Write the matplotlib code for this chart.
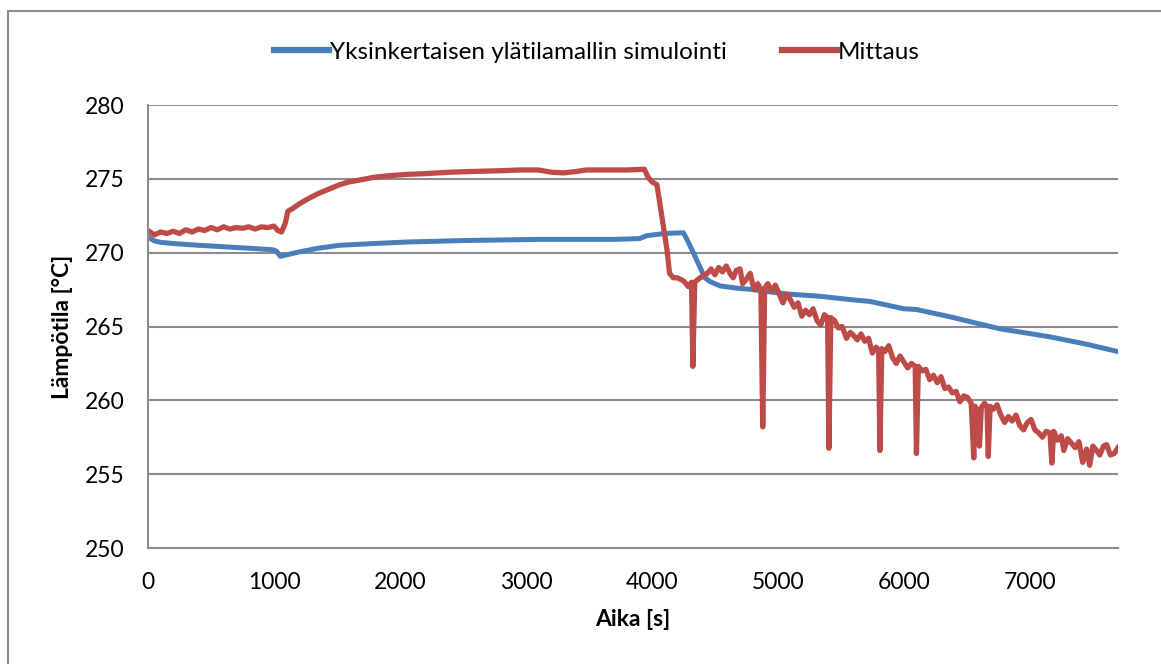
import matplotlib.pyplot as plt
from matplotlib.lines import Line2D
from matplotlib.patches import Rectangle

# Simuloitu ylätilan lämpötila (aika [s], lämpötila [°C])
sim_t = [0, 50, 100, 200, 400, 600, 800, 990, 1020, 1050, 1100, 1200, 1350,
         1520, 1800, 2050, 2500, 3110, 3700, 3900, 3960, 4100, 4250, 4275,
         4325, 4380, 4420, 4460, 4540, 4670, 4800, 5070, 5330, 5600, 5730,
         6000, 6100, 6370, 6760, 7160, 7450, 7700]
sim_T = [271.05, 270.8, 270.7, 270.62, 270.5, 270.4, 270.3, 270.2, 270.1,
         269.75, 269.85, 270.05, 270.3, 270.5, 270.62, 270.72, 270.82, 270.9,
         270.9, 270.95, 271.15, 271.3, 271.35, 270.95, 270.07, 269.05, 268.3,
         268.05, 267.75, 267.6, 267.5, 267.2, 267.05, 266.8, 266.7, 266.2,
         266.15, 265.65, 264.85, 264.3, 263.8, 263.3]

# Mitattu lämpötila
meas_t = [0, 50, 100, 150, 200, 250, 300, 350, 400, 450, 500, 550, 600, 650,
          700, 750, 800, 850, 900, 950, 1000, 1030, 1060, 1090, 1110, 1150,
          1200, 1260, 1350, 1450, 1520, 1600, 1700, 1790, 1900, 2050, 2200,
          2400, 2580, 2800, 2950, 3100, 3200, 3300, 3400, 3480, 3600, 3800,
          3940, 3970, 4000, 4040, 4080, 4120, 4140, 4170, 4200, 4250, 4290,
          4315, 4325, 4340,
          4360, 4400, 4440, 4470, 4500, 4530, 4560, 4590, 4620, 4645, 4670,
          4700, 4720, 4750, 4780, 4810, 4840, 4865, 4880, 4895, 4920, 4950,
          4980, 5010, 5040, 5070, 5100, 5130, 5160, 5190, 5220, 5250, 5280,
          5310, 5340, 5370, 5395, 5405, 5420, 5450, 5480, 5510, 5545, 5575,
          5600, 5630, 5660, 5690, 5720, 5750, 5780, 5800, 5810, 5825, 5850,
          5880, 5910, 5940, 5970, 6000, 6030, 6060, 6090, 6100, 6115, 6145,
          6175, 6205, 6235, 6265, 6295, 6325, 6355, 6385, 6415, 6445, 6475,
          6505, 6535, 6555, 6565, 6585, 6600, 6615, 6640, 6660, 6670, 6685,
          6710, 6740, 6770, 6800, 6830, 6860, 6890, 6920, 6950, 6980, 7010,
          7040, 7070, 7100, 7130, 7160, 7175, 7190, 7220, 7250, 7270, 7300,
          7330, 7360, 7390, 7420, 7450, 7475, 7500, 7530, 7555, 7585, 7610,
          7640, 7670, 7700]
meas_T = [271.5, 271.2, 271.4, 271.3, 271.45, 271.3, 271.55, 271.4, 271.6,
          271.5, 271.7, 271.55, 271.75, 271.6, 271.7, 271.65, 271.75, 271.6,
          271.75, 271.7, 271.8, 271.5, 271.4, 272.0, 272.8, 273.0, 273.3,
          273.6, 274.0, 274.35, 274.6, 274.8, 274.95, 275.1, 275.2, 275.3,
          275.35, 275.45, 275.5, 275.55, 275.6, 275.6, 275.45, 275.4, 275.5,
          275.6, 275.6, 275.6, 275.65, 275.1, 274.8, 274.6, 272.4, 270.2,
          268.6, 268.3, 268.3, 268.1, 267.7, 268.0, 262.3, 268.0,
          268.15, 268.4, 268.6, 268.9, 268.5, 269.0, 268.7, 269.1, 268.6,
          268.3, 268.8, 268.9, 267.9, 268.2, 268.6, 267.5, 267.9, 267.5,
          258.2, 267.6, 267.9, 267.4, 267.8, 267.2, 266.6, 267.2, 266.8,
          266.3, 266.6, 265.7, 266.1, 265.8, 266.2, 265.4, 265.1, 265.8,
          265.6, 256.75, 265.6, 265.4, 264.9, 265.0, 264.2, 264.6, 264.4,
          264.1, 264.5, 264.0, 264.2, 263.2, 263.6, 263.4, 256.6, 263.5,
          263.3, 263.7, 262.9, 262.5, 263.0, 262.6, 262.2, 262.5, 262.3,
          256.4, 262.3, 262.0, 262.1, 261.4, 261.7, 261.2, 261.6, 260.8,
          260.9, 260.5, 260.6, 259.9, 260.3, 260.2, 259.8, 256.1, 259.6,
          259.3, 256.9, 259.5, 259.8, 259.6, 256.2, 259.6, 259.4, 259.7,
          259.0, 258.5, 258.9, 258.6, 259.0, 258.3, 258.0, 258.5, 258.7,
          258.0, 257.8, 257.5, 257.9, 257.8, 255.75, 257.9, 257.3, 257.6,
          256.6, 257.4, 257.1, 256.8, 257.2, 255.8, 256.7, 255.6, 256.9,
          256.6, 256.3, 256.9, 257.0, 256.3, 256.4, 256.8]

x_ticks = [0, 1000, 2000, 3000, 4000, 5000, 6000, 7000]
y_ticks = [250, 255, 260, 265, 270, 275, 280]

plt.rcParams['font.family'] = ['Lato', 'DejaVu Sans']

blue = '#4A7EBB'
red = '#BE4B48'
grid = '#8C8C8C'

fig = plt.figure(figsize=(11.61, 6.64), dpi=100)
ax = fig.add_axes([148 / 1161, 1 - 548 / 664, 970 / 1161, 443 / 664])

# kaavion reunus
fig.patches.append(Rectangle((8 / 1161, -0.1), 1.2, 1 - 11 / 664 + 0.1,
                             transform=fig.transFigure, fill=False,
                             edgecolor='#8C8C8C', lw=1.5))

ax.plot(sim_t, sim_T, color=blue, lw=3.6, solid_joinstyle='round')
ax.plot(meas_t, meas_T, color=red, lw=3.8, solid_joinstyle='round')

ax.set_xlim(0, 7700)
ax.set_ylim(250, 280)
ax.set_xticks(x_ticks)
ax.set_yticks(y_ticks)
ax.tick_params(length=0, labelsize=16.5, pad=17)
ax.yaxis.grid(True, color=grid, lw=1.5)
ax.set_axisbelow(True)
for s in ['top', 'right']:
    ax.spines[s].set_visible(False)
for s in ['left', 'bottom']:
    ax.spines[s].set_color(grid)
    ax.spines[s].set_linewidth(1.5)

ax.set_xlabel('Aika [s]', fontsize=16.5, fontweight='bold', labelpad=12)
ax.set_ylabel('Lämpötila [°C]', fontsize=16.5, fontweight='bold', labelpad=8)

handles = [Line2D([], [], color=blue, lw=4.5),
           Line2D([], [], color=red, lw=4.5)]
fig.legend(handles, ['Yksinkertaisen ylätilamallin simulointi', 'Mittaus'],
           loc='center', bbox_to_anchor=(597 / 1161, 1 - 52 / 664), ncol=2,
           frameon=False, fontsize=17.5, handlelength=2.25, handletextpad=0.05,
           columnspacing=2.25)

fig.savefig('out.png', dpi=100)
